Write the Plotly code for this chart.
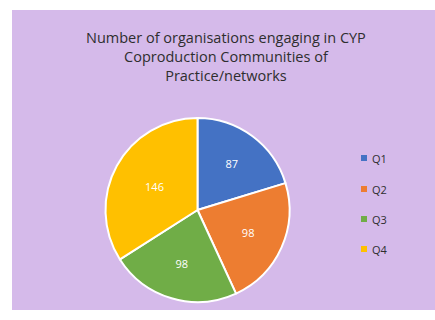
import plotly.graph_objects as go

labels = ["Q1", "Q2", "Q3", "Q4"]
values = [87, 98, 98, 146]
colors = ["#4472C4", "#ED7D31", "#70AD47", "#FFC000"]
title_text = "Number of organisations engaging in CYP<br>Coproduction Communities of<br>Practice/networks"

W, H = 435, 320
fig = go.Figure()
fig.add_trace(go.Pie(
    labels=labels, values=values, sort=False, direction="clockwise", rotation=0,
    marker=dict(colors=colors, line=dict(color="white", width=2)),
    textinfo="value", textposition="inside", insidetextorientation="horizontal",
    textfont=dict(color="white", size=11, family="Open Sans"),
    domain=dict(x=[105 / W, 290 / W], y=[1 - 302 / H, 1 - 118 / H]),
    showlegend=False, hoverinfo="label+value",
))

# purple panel
fig.add_shape(type="rect", xref="paper", yref="paper",
              x0=12 / W, x1=1.0, y0=1 - 310 / H, y1=1 - 10 / H,
              fillcolor="#D5BAEA", line=dict(width=0), layer="below")

# title
fig.add_annotation(text=title_text, xref="paper", yref="paper", x=226 / W, y=1 - 26 / H,
                   xanchor="center", yanchor="top", showarrow=False, align="center",
                   font=dict(family="Open Sans", size=14.5, color="#2E2E2E"))

# custom legend
leg_y = [158, 189, 219, 249]
for lab, col, yy in zip(labels, colors, leg_y):
    fig.add_shape(type="rect", xref="paper", yref="paper",
                  x0=361 / W, x1=367 / W, y0=1 - (yy + 3) / H, y1=1 - (yy - 3) / H,
                  fillcolor=col, line=dict(width=0))
    fig.add_annotation(text=lab, xref="paper", yref="paper", x=370 / W, y=1 - yy / H,
                       xanchor="left", yanchor="middle", showarrow=False,
                       font=dict(family="Open Sans", size=11, color="#2E2E2E"))

fig.update_layout(width=W, height=H, margin=dict(l=0, r=0, t=0, b=0),
                  paper_bgcolor="white", plot_bgcolor="white")
fig.write_html("out.html")
